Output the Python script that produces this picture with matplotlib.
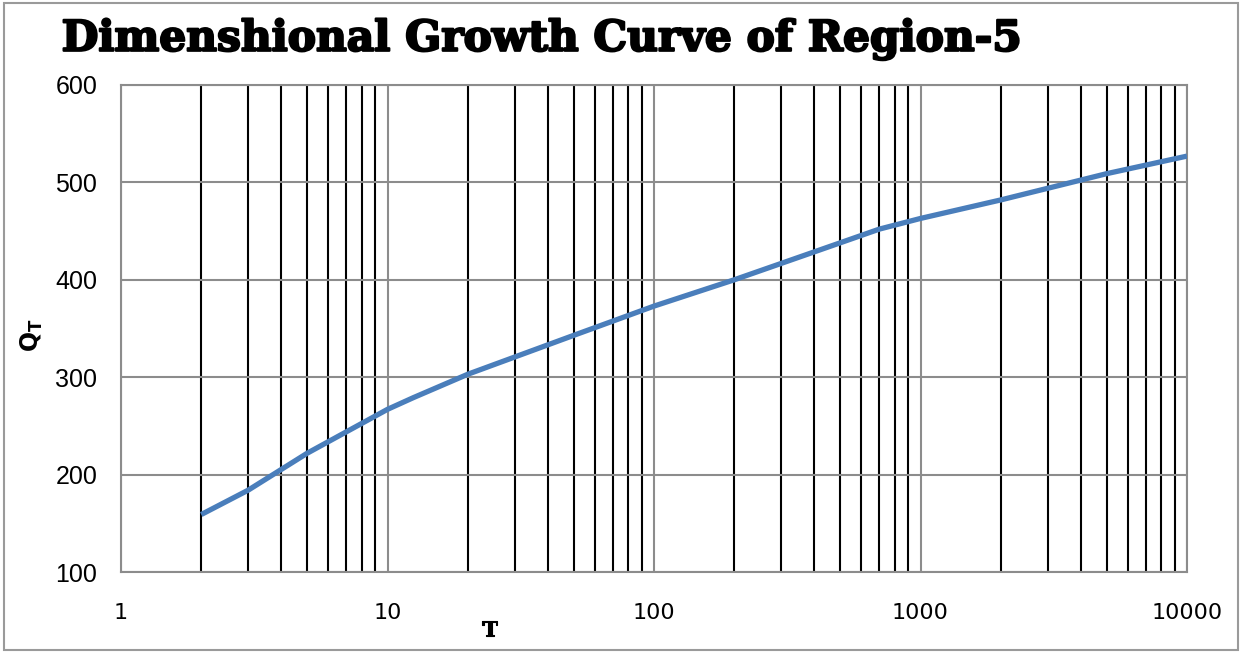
import matplotlib
matplotlib.use("Agg")
import matplotlib.pyplot as plt
import matplotlib.patheffects as pe
from matplotlib.patches import Rectangle
from matplotlib.ticker import LogLocator, FixedLocator, NullFormatter

# Return period (years) and dimensional flood quantile
T = [2, 3, 5, 10, 12.5, 20, 50, 100, 200, 500, 700, 1000, 2000, 5000, 10000]
Q_T = [159, 184, 222, 267, 279, 303, 343, 373, 400, 438, 452, 463, 482, 509, 527]

x_ticks = [1, 10, 100, 1000, 10000]
x_tick_labels = ["1", "10", "100", "1000", "10000"]
y_ticks = [100, 200, 300, 400, 500, 600]

title = "Dimenshional Growth Curve of Region-5"

W, H = 1241, 652
fig = plt.figure(figsize=(W / 100, H / 100), dpi=100)
fig.patch.set_facecolor("white")

# outer chart border
fig.add_artist(Rectangle((4 / W, 2 / H), (1238 - 4) / W, (650 - 3) / H,
                         transform=fig.transFigure, fill=False,
                         edgecolor="#9a9a9a", linewidth=1.5))

left, right, top, bottom = 121, 1187, 85, 572
ax = fig.add_axes([left / W, 1 - bottom / H, (right - left) / W, (bottom - top) / H])

ax.set_xscale("log")
ax.set_xlim(1, 10000)
ax.set_ylim(100, 600)

grid_gray = "#8c8c8c"
ax.xaxis.set_major_locator(FixedLocator(x_ticks))
ax.set_xticks(x_ticks)
ax.set_xticklabels(x_tick_labels)
ax.xaxis.set_minor_locator(LogLocator(base=10, subs=range(2, 10)))
ax.xaxis.set_minor_formatter(NullFormatter())
ax.set_yticks(y_ticks)

ax.grid(which="major", axis="both", color=grid_gray, linewidth=1.5)
ax.grid(which="minor", axis="x", color="black", linewidth=1.5)
ax.set_axisbelow(True)

ax.tick_params(which="both", length=0)
ax.tick_params(axis="x", pad=22, labelsize=16)
ax.tick_params(axis="y", pad=17, labelsize=18)
for lab in ax.get_xticklabels():
    lab.set_fontfamily("DejaVu Sans")
for lab in ax.get_yticklabels():
    lab.set_fontfamily("Liberation Sans")

for s in ax.spines.values():
    s.set_color(grid_gray)
    s.set_linewidth(1.5)

ax.plot(T, Q_T, color="#4a7ebb", linewidth=3.8, solid_capstyle="butt", zorder=3)

plt.rcParams["mathtext.fontset"] = "dejavusans"
fig.text(32 / W, 1 - 335 / H, r"$\mathbf{Q}_{\mathbf{T}}$", rotation=90,
         ha="center", va="center", fontsize=17)
fig.text(490 / W, 1 - 630 / H, "T", ha="center", va="center",
         fontsize=15, fontweight="bold", family="DejaVu Serif",
         path_effects=[pe.withStroke(linewidth=0.8, foreground="black")])

fig.text(542 / W, 1 - 39 / H, title, ha="center", va="center",
         fontsize=30.5, fontweight="heavy", family="DejaVu Serif",
         path_effects=[pe.withStroke(linewidth=1.6, foreground="black")])

fig.savefig("out.png", dpi=100, facecolor="white")
